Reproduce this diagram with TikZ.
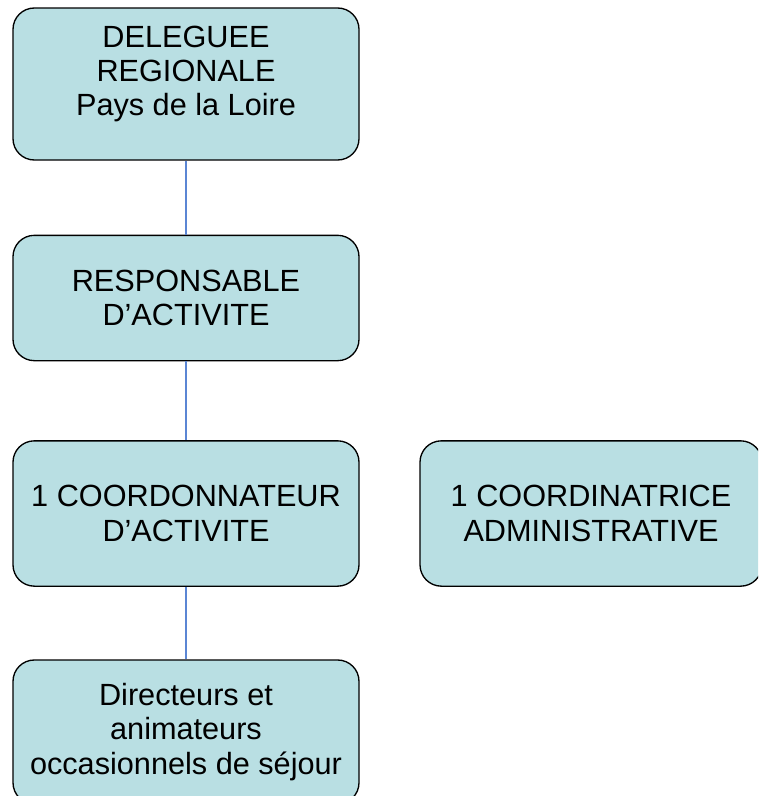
\documentclass[tikz,border=0pt]{standalone}
\usepackage{fontspec}
\setmainfont{Liberation Sans}

\definecolor{fondposte}{HTML}{B9DFE3}
\definecolor{traitlien}{HTML}{5B86D4}

\tikzset{
	poste/.style={draw, fill=fondposte, rounded corners=16pt, line width=1pt,
		minimum width=259.5pt, inner sep=0pt, align=center,
		font=\fontsize{23}{25.8}\selectfont},
	lien/.style={draw=traitlien, line width=0.8pt}
}

\begin{document}
\begin{tikzpicture}[x=0.75pt, y=-0.75pt]
				\clip (0,0) rectangle (758,796);
				\node[poste, minimum height=114pt] (deleguee) at (186, 84) {DELEGUEE\\REGIONALE\\Pays de la Loire\\[-6pt]\mbox{}};
				\node[poste, minimum height=94pt] (responsable) at (186, 298) {RESPONSABLE\\D’ACTIVITE};
				\node[poste, minimum height=109pt] (coordonnateur) at (186, 513.5) {1 COORDONNATEUR\\D’ACTIVITE};
				\node[poste, minimum height=109pt, minimum width=256.5pt] (coordinatrice) at (591, 513.5) {1 COORDINATRICE\\ADMINISTRATIVE};
				\node[poste, minimum height=108pt] (directeurs) at (186, 732) {Directeurs et\\animateurs\\occasionnels de séjour};
				\draw[lien] (deleguee) -- (responsable);
				\draw[lien] (responsable) -- (coordonnateur);
				\draw[lien] (coordonnateur) -- (directeurs);
			\end{tikzpicture}
\end{document}
